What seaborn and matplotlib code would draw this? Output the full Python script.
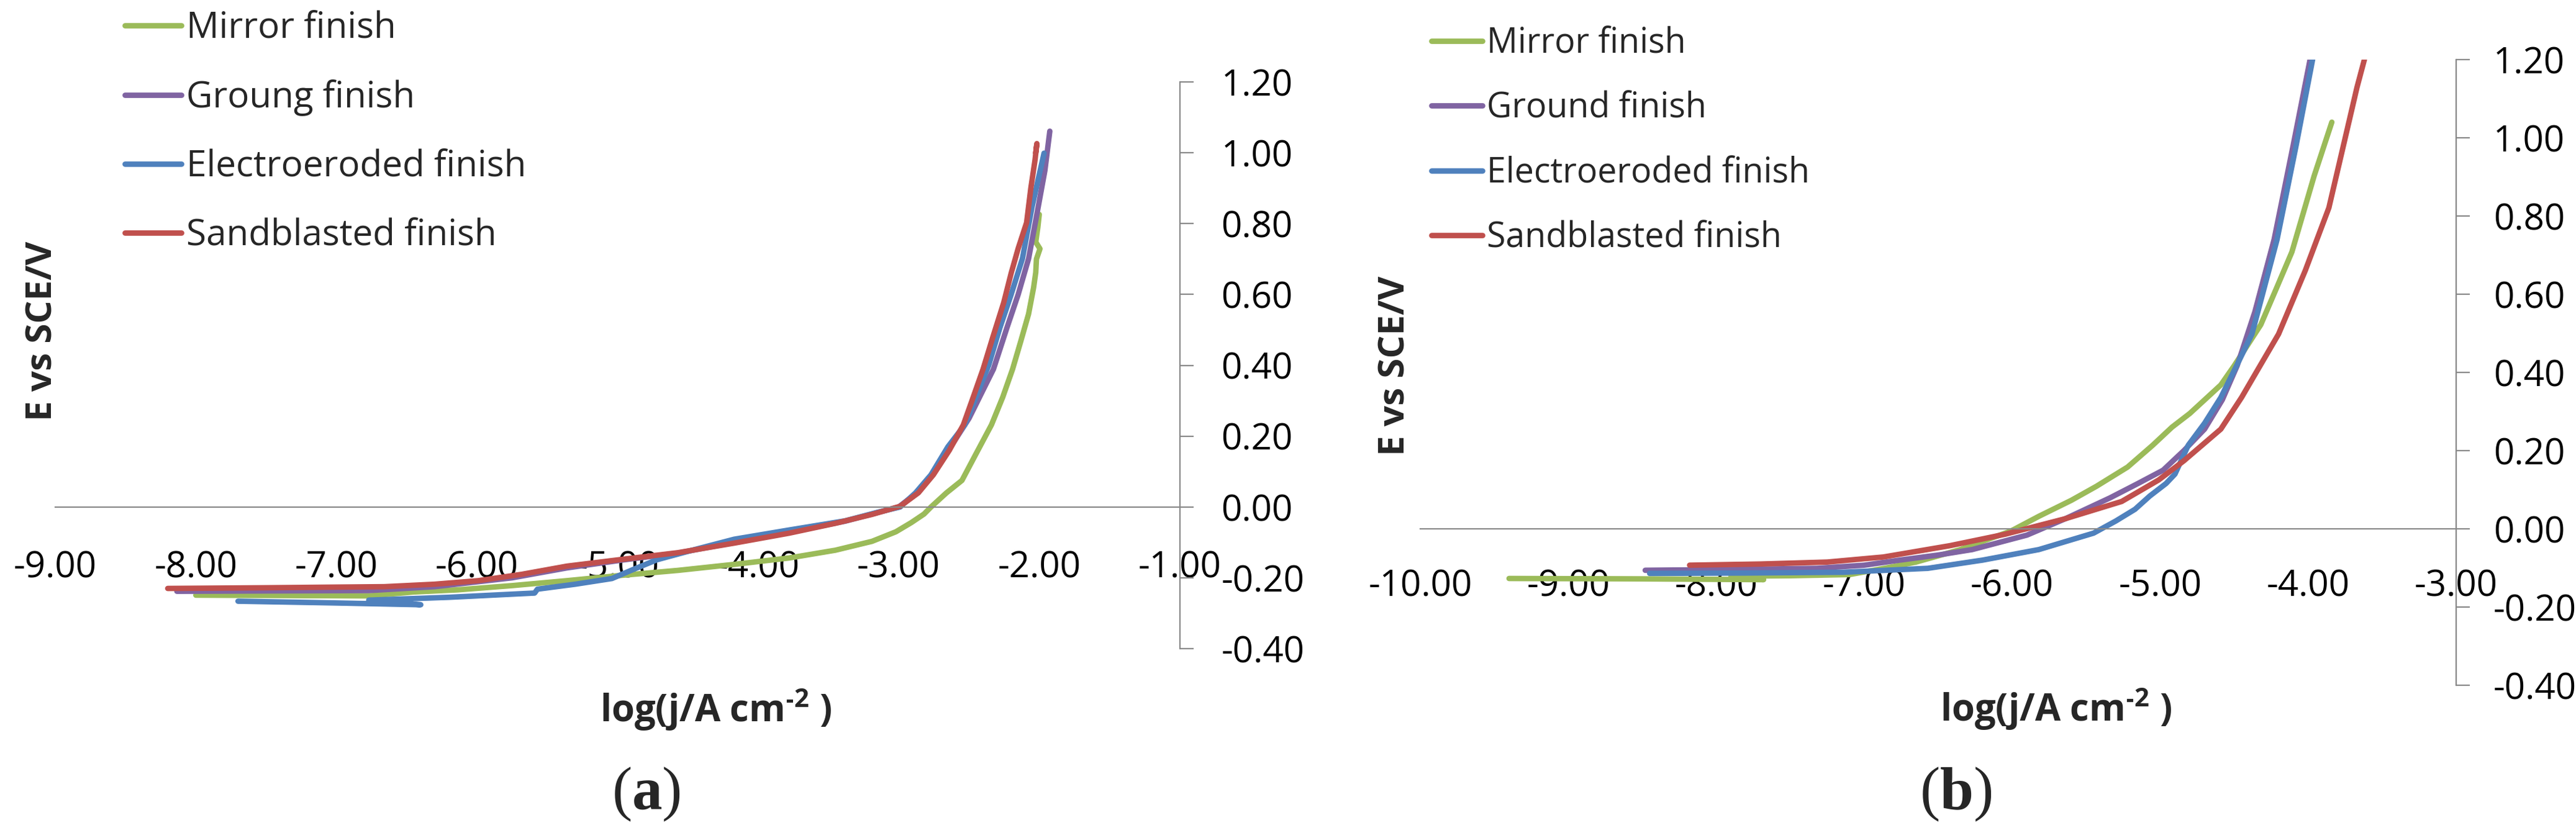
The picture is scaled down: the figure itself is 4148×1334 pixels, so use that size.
import pandas as pd
import seaborn as sns
import matplotlib
matplotlib.use("Agg")
import matplotlib.pyplot as plt
from matplotlib.lines import Line2D
from matplotlib.ticker import FixedLocator, FormatStrFormatter
from matplotlib.offsetbox import TextArea, HPacker, AnchoredOffsetbox

# ---- data ----
finishes_a = ["Mirror finish", "Groung finish", "Electroeroded finish", "Sandblasted finish"]
finishes_b = ["Mirror finish", "Ground finish", "Electroeroded finish", "Sandblasted finish"]
colors = ["#9BBB59", "#8064A2", "#4F81BD", "#C0504D"]

# panel (a)
a_mirror_x = [-8.00, -7.40, -6.77, -6.45, -6.14, -5.75, -5.36, -4.97, -4.57, -4.17, -3.78, -3.45,
              -3.19, -3.02, -2.91, -2.82, -2.77, -2.66, -2.55, -2.45, -2.34, -2.26, -2.19, -2.13,
              -2.076, -2.04, -2.025, -2.02, -1.995, -2.025, -2.01, -2.00]
a_mirror_y = [-0.249, -0.250, -0.251, -0.240, -0.234, -0.222, -0.208, -0.193, -0.179, -0.162, -0.144, -0.122,
              -0.097, -0.070, -0.044, -0.020, 0.000, 0.040, 0.075, 0.150, 0.232, 0.310, 0.389, 0.470,
              0.545, 0.620, 0.662, 0.700, 0.729, 0.748, 0.790, 0.826]

a_ground_x = [-8.135, -7.50, -6.77, -6.30, -5.75, -5.36, -4.97, -4.57, -4.17, -3.78, -3.38, -3.00,
              -2.87, -2.76, -2.63, -2.50, -2.40, -2.326, -2.23, -2.15, -2.076, -2.02, -1.96, -1.925]
a_ground_y = [-0.238, -0.237, -0.236, -0.225, -0.200, -0.172, -0.150, -0.130, -0.100, -0.072, -0.040, 0.000,
              0.040, 0.090, 0.170, 0.250, 0.330, 0.389, 0.506, 0.600, 0.701, 0.820, 0.950, 1.061]

a_electro_x = [-7.70, -7.00, -6.40, -6.77, -6.20, -5.59, -5.57, -5.30, -5.04, -4.88, -4.72, -4.45,
               -4.17, -3.78, -3.38, -3.15, -2.99, -2.88, -2.77, -2.65, -2.53, -2.45, -2.36, -2.28,
               -2.20, -2.12, -2.05, -1.966]
a_electro_y = [-0.266, -0.271, -0.276, -0.263, -0.255, -0.243, -0.232, -0.218, -0.202, -0.175, -0.149, -0.120,
               -0.091, -0.065, -0.039, -0.015, 0.000, 0.040, 0.091, 0.170, 0.232, 0.310, 0.400, 0.506,
               0.600, 0.701, 0.850, 0.999]

a_sand_x = [-8.20, -7.50, -6.66, -6.30, -5.99, -5.68, -5.36, -4.97, -4.57, -4.17, -3.78, -3.45,
            -3.19, -2.99, -2.86, -2.753, -2.64, -2.54, -2.47, -2.40, -2.33, -2.253, -2.20, -2.15,
            -2.09, -2.06, -2.03, -2.017, -2.025]
a_sand_y = [-0.230, -0.228, -0.225, -0.218, -0.208, -0.190, -0.167, -0.148, -0.129, -0.102, -0.074, -0.046,
            -0.021, 0.002, 0.040, 0.091, 0.160, 0.232, 0.310, 0.389, 0.480, 0.577, 0.660, 0.730,
            0.803, 0.900, 0.980, 1.026, 1.000]

# panel (b)
b_mirror_x = [-9.40, -8.50, -7.68, -7.90, -7.50, -7.10, -6.85, -6.65, -6.35, -6.15, -6.01, -5.82,
              -5.60, -5.43, -5.22, -5.05, -4.92, -4.80, -4.59, -4.50, -4.32, -4.21, -4.11, -3.96, -3.84]
b_mirror_y = [-0.127, -0.128, -0.130, -0.121, -0.120, -0.117, -0.100, -0.085, -0.053, -0.025, -0.006, 0.032,
              0.073, 0.109, 0.158, 0.214, 0.260, 0.295, 0.368, 0.417, 0.522, 0.619, 0.708, 0.902, 1.040]

b_ground_x = [-8.48, -7.90, -7.32, -7.00, -6.76, -6.50, -6.27, -5.90, -5.64, -5.34, -5.15, -4.98,
              -4.84, -4.70, -4.58, -4.48, -4.36, -4.23, -4.10, -3.987]
b_ground_y = [-0.106, -0.104, -0.101, -0.093, -0.080, -0.067, -0.053, -0.016, 0.026, 0.079, 0.116, 0.150,
              0.200, 0.255, 0.330, 0.417, 0.555, 0.740, 0.983, 1.200]

b_electro_x = [-8.45, -7.80, -7.14, -6.57, -6.20, -5.82, -5.45, -5.30, -5.17, -5.07, -4.96, -4.90,
               -4.81, -4.70, -4.59, -4.48, -4.38, -4.21, -4.08, -3.97]
b_electro_y = [-0.114, -0.113, -0.111, -0.101, -0.080, -0.053, -0.011, 0.020, 0.050, 0.084, 0.116, 0.140,
               0.214, 0.270, 0.336, 0.420, 0.498, 0.740, 0.983, 1.200]

b_sand_x = [-8.18, -7.70, -7.25, -6.87, -6.42, -6.05, -5.64, -5.26, -5.01, -4.84, -4.59, -4.45,
            -4.20, -4.02, -3.86, -3.76, -3.67, -3.62]
b_sand_y = [-0.093, -0.090, -0.085, -0.072, -0.043, -0.014, 0.026, 0.070, 0.125, 0.174, 0.255, 0.336,
            0.498, 0.660, 0.821, 0.983, 1.129, 1.200]

a_xticks = [-9, -8, -7, -6, -5, -4, -3, -2, -1]
b_xticks = [-10, -9, -8, -7, -6, -5, -4, -3]
yticks = [-0.4, -0.2, 0.0, 0.2, 0.4, 0.6, 0.8, 1.0, 1.2]


def make_frame(names, xs, ys):
    parts = []
    for name, x, y in zip(names, xs, ys):
        parts.append(pd.DataFrame({"logj": x, "E": y, "finish": name}))
    return pd.concat(parts, ignore_index=True)


df_a = make_frame(finishes_a, [a_mirror_x, a_ground_x, a_electro_x, a_sand_x],
                  [a_mirror_y, a_ground_y, a_electro_y, a_sand_y])
df_b = make_frame(finishes_b, [b_mirror_x, b_ground_x, b_electro_x, b_sand_x],
                  [b_mirror_y, b_ground_y, b_electro_y, b_sand_y])

sns.set_style("white")
plt.rcParams["font.family"] = ["Open Sans", "DejaVu Sans"]
plt.rcParams["mathtext.fontset"] = "custom"
plt.rcParams["mathtext.rm"] = "Open Sans"
plt.rcParams["mathtext.bf"] = "Open Sans:bold"

GRAY = "#898989"
LW = 6.3

fig = plt.figure(figsize=(41.48, 13.34), dpi=100, facecolor="white")
ax_a = fig.add_axes([0.02146, 0.2166, 0.43655, 0.6844])
ax_b = fig.add_axes([0.55135, 0.17241, 0.40212, 0.75562])


def style_axis(ax, df, names, xlim, xticks, xpad, ypad):
    sns.lineplot(data=df, x="logj", y="E", hue="finish", hue_order=names,
                 palette=dict(zip(names, colors)), sort=False, estimator=None,
                 lw=LW, legend=False, ax=ax,
                 solid_capstyle="round", solid_joinstyle="round")
    ax.set_xlim(*xlim)
    ax.set_ylim(-0.4, 1.2)
    ax.set_facecolor("none")
    ax.spines["top"].set_visible(False)
    ax.spines["left"].set_visible(False)
    ax.spines["bottom"].set_position(("data", 0))
    for s in ("bottom", "right"):
        ax.spines[s].set_color(GRAY)
        ax.spines[s].set_linewidth(1.6)
    ax.yaxis.tick_right()
    ax.xaxis.set_major_locator(FixedLocator(xticks))
    ax.yaxis.set_major_locator(FixedLocator(yticks))
    ax.xaxis.set_major_formatter(FormatStrFormatter("%.2f"))
    ax.yaxis.set_major_formatter(FormatStrFormatter("%.2f"))
    ax.tick_params(axis="x", direction="out", length=16, width=1.6, color=GRAY,
                   labelsize=42, pad=xpad, labelcolor="black")
    ax.tick_params(axis="y", direction="out", length=16, width=1.6, color=GRAY,
                   labelsize=42, pad=ypad, labelcolor="black")
    ax.set_xlabel("log(j/A cm$^{\\mathbf{\u20102}}$ )", fontsize=43, fontweight="bold")
    ax.set_ylabel("E vs SCE/V", fontsize=42, fontweight="bold")
    ax.yaxis.set_label_position("left")
    ax.xaxis.label.set_va("center")
    ax.yaxis.label.set_va("center")


style_axis(ax_a, df_a, finishes_a, (-9, -1), a_xticks, 34, 32)
style_axis(ax_b, df_b, finishes_b, (-10, -3), b_xticks, 30, 27)

ax_a.xaxis.set_label_coords(0.5875, -0.107)
ax_a.yaxis.set_label_coords(-0.0116, 0.561)
ax_b.xaxis.set_label_coords(0.614, -0.038)
ax_b.yaxis.set_label_coords(-0.024, 0.511)


def add_legend(ax, names, anchor, size, spacing, hlen, hpad):
    handles = [Line2D([], [], color=c, lw=LW, solid_capstyle="round") for c in colors]
    ax.legend(handles, names, loc="upper left", bbox_to_anchor=anchor,
              bbox_transform=fig.transFigure, frameon=False, fontsize=size,
              labelspacing=spacing, handlelength=hlen, handletextpad=hpad,
              borderpad=0, borderaxespad=0)


add_legend(ax_a, finishes_a, (0.0485, 0.987), 42, 0.9, 1.55, 0.15)
add_legend(ax_b, finishes_b, (0.5557, 0.968), 40, 0.85, 1.48, 0.13)


def panel_tag(letter, x, y):
    parts = [TextArea("(", textprops=dict(family="Liberation Serif", size=70)),
             TextArea(letter, textprops=dict(family="Liberation Serif", size=70, weight="bold")),
             TextArea(")", textprops=dict(family="Liberation Serif", size=70))]
    box = HPacker(children=parts, align="baseline", pad=0, sep=0)
    anchored = AnchoredOffsetbox(loc="center", child=box, pad=0, borderpad=0, frameon=False,
                                 bbox_to_anchor=(x, y), bbox_transform=fig.transFigure)
    fig.add_artist(anchored)


panel_tag("a", 0.2512, 0.0405)
panel_tag("b", 0.7597, 0.0405)

fig.savefig("out.png", dpi=100, facecolor="white")
